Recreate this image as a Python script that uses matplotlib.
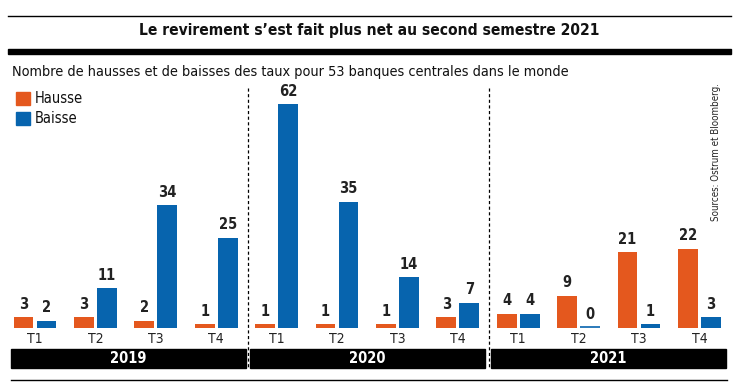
import matplotlib.pyplot as plt
from matplotlib.patches import Rectangle
from matplotlib.lines import Line2D
import numpy as np

years = ['2019', '2020', '2021']
quarters = ['T1', 'T2', 'T3', 'T4']
hausse = [3, 3, 2, 1, 1, 1, 1, 3, 4, 9, 21, 22]
baisse = [2, 11, 34, 25, 62, 35, 14, 7, 4, 0, 1, 3]

orange = '#E4581E'
blue = '#0764AE'
plt.rcParams['font.family'] = ['DejaVu Sans']
plt.rcParams['font.stretch'] = 'condensed'

W, H = 734, 388
fig = plt.figure(figsize=(W / 100, H / 100), dpi=100)

def fx(px):
    return px / W

def fy(py):
    return 1 - py / H

x0, step = 35, 60.4
left = x0 - 0.5 * step
ax = fig.add_axes([fx(left), fy(328), fx(12 * step), (328 - 75) / H])
ax.set_xlim(-0.5, 11.5)
ax.set_ylim(0, (328 - 75) / 3.61)
ax.axis('off')

x = np.arange(len(hausse))
w, off = 0.33, 0.19
ax.bar(x - off, hausse, w, color=orange)
ax.bar(x + off, baisse, w, color=blue)
for xi, h, b in zip(x, hausse, baisse):
    if b == 0:
        ax.hlines(0.15, xi + off - w / 2, xi + off + w / 2, color=blue, linewidth=1.2)
    ax.annotate(str(h), (xi - off, h), xytext=(0, 4), textcoords='offset points',
                ha='center', va='bottom', fontsize=10.5, fontweight='bold', color='#222222')
    ax.annotate(str(b), (xi + off, b), xytext=(0, 4), textcoords='offset points',
                ha='center', va='bottom', fontsize=10.5, fontweight='bold', color='#222222')

for i in range(12):
    fig.text(fx(x0 + step * i), fy(339), quarters[i % 4], ha='center', va='center',
             fontsize=10, color='#222222')

boxes = [(11, 246), (250, 485), (491, 726)]
for (a, b), yr in zip(boxes, years):
    fig.patches.append(Rectangle((fx(a), fy(368)), fx(b - a), (368 - 349) / H,
                                 transform=fig.transFigure, color='black'))
    fig.text(fx((a + b) / 2), fy(358.5), yr, ha='center', va='center',
             fontsize=10.5, fontweight='bold', color='white')
for sx in [247.5, 488.5]:
    fig.add_artist(Line2D([fx(sx), fx(sx)], [fy(88), fy(368)], color='black',
                          linewidth=0.9, linestyle=(0, (2.5, 2))))

fig.add_artist(Line2D([fx(8), fx(731)], [fy(16), fy(16)], color='black', linewidth=1))
fig.patches.append(Rectangle((fx(8), fy(54)), fx(723), 5 / H,
                             transform=fig.transFigure, color='black'))
fig.add_artist(Line2D([fx(11), fx(727)], [fy(380), fy(380)], color='black', linewidth=1))

fig.text(fx(369), fy(31), 'Le revirement s\u2019est fait plus net au second semestre 2021',
         ha='center', va='center', fontsize=11.2, fontweight='bold', color='#111111')
fig.text(fx(12), fy(72), 'Nombre de hausses et de baisses des taux pour 53 banques centrales dans le monde',
         ha='left', va='center', fontsize=10.4, color='#111111')
fig.text(fx(716), fy(152), 'Sources: Ostrum et Bloomberg.', rotation=90,
         ha='center', va='center', fontsize=7, color='#222222')

for (y0, c, lab) in [(92, orange, 'Hausse'), (112, blue, 'Baisse')]:
    fig.patches.append(Rectangle((fx(16), fy(y0 + 13)), fx(14), 13 / H,
                                 transform=fig.transFigure, color=c))
    fig.text(fx(35), fy(y0 + 6.5), lab, ha='left', va='center', fontsize=10.5, color='#111111')

fig.savefig('out.png', dpi=100)
